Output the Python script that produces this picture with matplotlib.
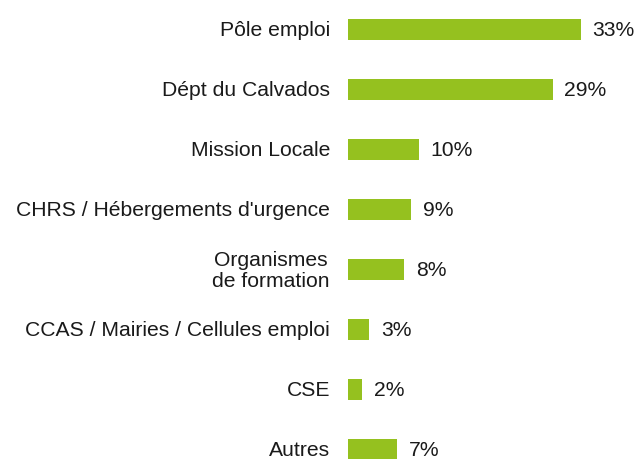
import matplotlib
matplotlib.use('Agg')
import matplotlib.pyplot as plt

# data
categories = ['Pôle emploi', 'Dépt du Calvados', 'Mission Locale',
              "CHRS / Hébergements d'urgence", 'Organismes\nde formation',
              'CCAS / Mairies / Cellules emploi', 'CSE', 'Autres']
values = [33, 29, 10, 9, 8, 3, 2, 7]
value_labels = ['33%', '29%', '10%', '9%', '8%', '3%', '2%', '7%']

plt.rcParams['font.family'] = ['Liberation Sans', 'DejaVu Sans']

fig = plt.figure(figsize=(6.4, 4.59), dpi=100)
ax = fig.add_axes([348/640, 0, 1 - 348/640, 1])

y = list(range(len(categories)))
ax.barh(y, values, height=0.35, color='#95c11f')

for i, (v, lab) in enumerate(zip(values, value_labels)):
    ax.annotate(lab, (v, i), textcoords='offset points', xytext=(8.5, -0.7),
                ha='left', va='center', fontsize=15.2, color='#1a1a1a')

for i, cat in enumerate(categories):
    ax.annotate(cat, (0, i), textcoords='offset points', xytext=(-13, -0.7),
                ha='right', va='center', fontsize=15.2, color='#1a1a1a',
                multialignment='center', linespacing=1.1,
                annotation_clip=False)

ax.set_xlim(0, 41.4)
ax.set_ylim(7.15, -0.5)
ax.axis('off')

fig.savefig('out.png', dpi=100)
